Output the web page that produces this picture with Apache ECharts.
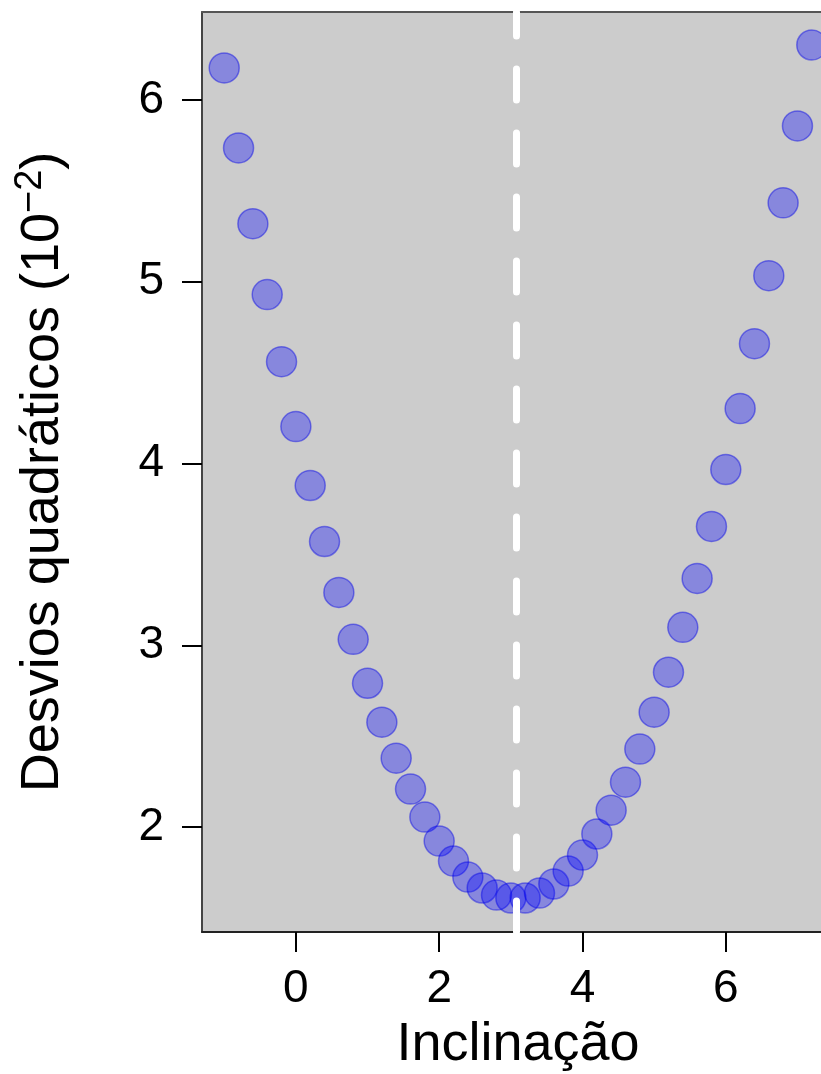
<!DOCTYPE html>
<html>
<head>
<meta charset="utf-8">
<script src="https://cdn.jsdelivr.net/npm/echarts@6/dist/echarts.min.js"></script>
<style>
  html, body { margin: 0; padding: 0; background: #ffffff; }
  #chart { width: 821px; height: 1074px; }
</style>
</head>
<body>
<div id="chart"></div>
<script>
// Slope values tried and the resulting sum of squared deviations (x 10^-2)
const slopes = [
  -1.0, -0.8, -0.6, -0.4, -0.2, 0.0, 0.2, 0.4, 0.6, 0.8,
  1.0, 1.2, 1.4, 1.6, 1.8, 2.0, 2.2, 2.4, 2.6, 2.8,
  3.0, 3.2, 3.4, 3.6, 3.8, 4.0, 4.2, 4.4, 4.6, 4.8,
  5.0, 5.2, 5.4, 5.6, 5.8, 6.0, 6.2, 6.4, 6.6, 6.8,
  7.0, 7.2
];
const sqDeviations = [
  6.176, 5.736, 5.319, 4.929, 4.560, 4.203, 3.879, 3.571, 3.291, 3.033,
  2.791, 2.577, 2.379, 2.209, 2.055, 1.923, 1.813, 1.725, 1.665, 1.626,
  1.610, 1.610, 1.637, 1.687, 1.758, 1.846, 1.962, 2.093, 2.247, 2.429,
  2.632, 2.852, 3.099, 3.368, 3.654, 3.967, 4.302, 4.659, 5.033, 5.434,
  5.857, 6.302
];
// Best-fit slope marked by the dashed line
const bestSlope = 3.08;

const xTicks = [0, 2, 4, 6];
const yTicks = [2, 3, 4, 5, 6];

const points = slopes.map((s, i) => [s, sqDeviations[i]]);

const chart = echarts.init(document.getElementById('chart'), null, { renderer: 'canvas' });
const font = 'Liberation Sans, Arial, Helvetica, sans-serif';
// the plot region runs a little past the right edge of the canvas
const xMin = -1.31, xMax = 7.51;

chart.setOption({
  animation: false,
  backgroundColor: '#ffffff',
  grid: {
    left: 202,
    top: 12,
    right: -13,
    bottom: 142,
    outerBoundsMode: 'none',
    containLabel: false,
    show: true,
    backgroundColor: '#cccccc',
    borderWidth: 0
  },
  xAxis: [
    {
      type: 'value',
      position: 'bottom',
      min: xMin,
      max: xMax,
      name: 'Inclinação',
      nameLocation: 'middle',
      nameGap: 86,
      nameTextStyle: { fontFamily: font, fontSize: 54, color: '#000000' },
      axisLine: { show: true, onZero: false, lineStyle: { color: '#222222', width: 2 } },
      splitLine: { show: false },
      axisTick: {
        show: true,
        customValues: xTicks,
        length: 20,
        lineStyle: { color: '#000000', width: 2 }
      },
      axisLabel: {
        customValues: xTicks,
        margin: 34,
        fontFamily: font,
        fontSize: 46,
        color: '#000000'
      }
    },
    {
      // top edge of the plot frame
      type: 'value',
      position: 'top',
      min: xMin,
      max: xMax,
      axisLine: { show: true, onZero: false, lineStyle: { color: '#555555', width: 2 } },
      axisTick: { show: false },
      axisLabel: { show: false },
      splitLine: { show: false }
    }
  ],
  yAxis: {
    type: 'value',
    min: 1.423,
    max: 6.4835,
    name: 'Desvios quadráticos (10{sup|−2})',
    nameLocation: 'middle',
    nameRotate: 90,
    nameGap: 128,
    nameTextStyle: {
      fontFamily: font,
      fontSize: 54,
      lineHeight: 62,
      color: '#000000',
      rich: {
        sup: { fontFamily: font, fontSize: 38, lineHeight: 38, verticalAlign: 'top', color: '#000000' }
      }
    },
    axisLine: {
      show: true,
      onZero: false,
      lineStyle: { color: '#444444', width: 2 }
    },
    splitLine: { show: false },
    axisTick: {
      show: true,
      customValues: yTicks,
      length: 20,
      lineStyle: { color: '#000000', width: 2 }
    },
    axisLabel: {
      customValues: yTicks,
      margin: 38,
      fontFamily: font,
      fontSize: 46,
      color: '#000000'
    }
  },
  series: [
    {
      type: 'scatter',
      data: points,
      symbol: 'circle',
      symbolSize: 30,
      itemStyle: {
        color: 'rgba(0, 0, 255, 0.42)',
        borderColor: 'rgba(0, 0, 230, 0.55)',
        borderWidth: 1.5
      },
      markLine: {
        silent: true,
        symbol: ['none', 'none'],
        label: { show: false },
        lineStyle: {
          color: '#ffffff',
          width: 7,
          type: [31, 33],
          dashOffset: 0,
          cap: 'round'
        },
        data: [{ xAxis: bestSlope }]
      }
    }
  ]
});
</script>
</body>
</html>
